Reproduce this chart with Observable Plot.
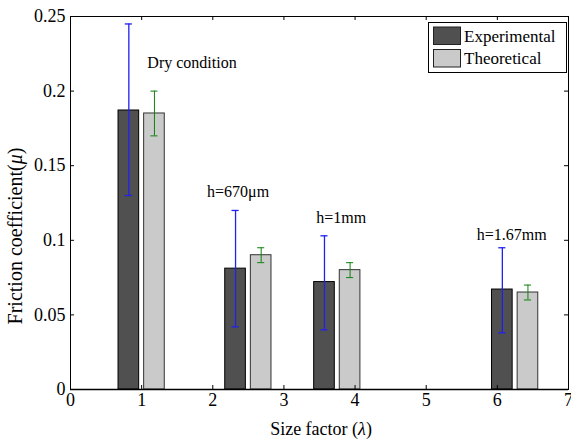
<!DOCTYPE html>
<html>
<head>
<meta charset="utf-8">
<script src="https://cdn.jsdelivr.net/npm/d3@7"></script>
<script src="https://cdn.jsdelivr.net/npm/@observablehq/plot@0.6"></script>
<style>
  body { margin: 0; background: #fff; }
  svg { font-family: "Liberation Serif", "Times New Roman", serif; }
</style>
</head>
<body>
<div id="chart"></div>
<script>
// ---- data ----
const lambda = [1, 2.5, 3.75, 6.25];
const experimental = [0.187, 0.081, 0.072, 0.067];
const expLow = [0.130, 0.042, 0.040, 0.038];
const expHigh = [0.245, 0.120, 0.103, 0.095];
const theoretical = [0.185, 0.090, 0.080, 0.065];
const theoLow = [0.170, 0.085, 0.075, 0.060];
const theoHigh = [0.200, 0.095, 0.085, 0.070];
const annotations = ["Dry condition", "h=670\u03bcm", "h=1mm", "h=1.67mm"];
const annotX = [1.08, 1.92, 3.455, 5.71];
const annotY = [0.219, 0.1326, 0.115, 0.1035];
const xTicks = [0, 1, 2, 3, 4, 5, 6, 7];
const yTicks = [0, 0.05, 0.1, 0.15, 0.2, 0.25];
const seriesNames = ["Experimental", "Theoretical"];

// ---- layout / style ----
const W = 571, H = 440;
const mt = 16, mb = 51, ml = 70, mr = 3;
const innerH = H - mt - mb, innerW = W - ml - mr;
const offset = 0.18, halfW = 0.145, cap = 0.05;
const darkFill = "#505050", lightFill = "#cacaca";

const rows = lambda.map((x, i) => ({
  x, exp: experimental[i], eLo: expLow[i], eHi: expHigh[i],
  theo: theoretical[i], tLo: theoLow[i], tHi: theoHigh[i]
}));
const notes = annotations.map((t, i) => ({t, x: annotX[i], y: annotY[i]}));

const plot = Plot.plot({
  width: W, height: H,
  marginTop: mt, marginBottom: mb, marginLeft: ml, marginRight: mr,
  style: {fontFamily: "Liberation Serif, serif", fontSize: "18px", background: "#fff", color: "#000"},
  x: {domain: [0, 7], ticks: xTicks, label: null},
  y: {domain: [0, 0.25], ticks: yTicks, label: null},
  marks: [
    // bars
    Plot.rectY(rows, {x1: d => d.x - offset - halfW, x2: d => d.x - offset + halfW, y: "exp", fill: darkFill, stroke: "#000", strokeWidth: 1}),
    Plot.rectY(rows, {x1: d => d.x + offset - halfW, x2: d => d.x + offset + halfW, y: "theo", fill: lightFill, stroke: "#333", strokeWidth: 1}),
    // error bars experimental
    Plot.ruleX(rows, {x: d => d.x - offset, y1: "eLo", y2: "eHi", stroke: "#2020f0", strokeWidth: 1.3}),
    Plot.ruleY(rows, {y: "eLo", x1: d => d.x - offset - cap, x2: d => d.x - offset + cap, stroke: "#2020f0", strokeWidth: 1.3}),
    Plot.ruleY(rows, {y: "eHi", x1: d => d.x - offset - cap, x2: d => d.x - offset + cap, stroke: "#2020f0", strokeWidth: 1.3}),
    // error bars theoretical
    Plot.ruleX(rows, {x: d => d.x + offset, y1: "tLo", y2: "tHi", stroke: "#108010", strokeWidth: 1}),
    Plot.ruleY(rows, {y: "tLo", x1: d => d.x + offset - cap, x2: d => d.x + offset + cap, stroke: "#108010", strokeWidth: 1}),
    Plot.ruleY(rows, {y: "tHi", x1: d => d.x + offset - cap, x2: d => d.x + offset + cap, stroke: "#108010", strokeWidth: 1}),
    // annotations
    Plot.text(notes, {x: "x", y: "y", text: "t", textAnchor: "start", fontSize: 16, fill: "#000"}),
    // inner ticks
    Plot.tickX(xTicks, {x: d => d, insetTop: innerH - 4, stroke: "#000"}),
    Plot.tickX(xTicks, {x: d => d, insetBottom: innerH - 4, stroke: "#000"}),
    Plot.tickY(yTicks, {y: d => d, insetRight: innerW - 4, stroke: "#000"}),
    Plot.tickY(yTicks, {y: d => d, insetLeft: innerW - 4, stroke: "#000"}),
    Plot.frame({stroke: "#000", strokeWidth: 1}),
    Plot.ruleY([0], {stroke: "#000", strokeWidth: 1.5}),
    // axes (labels only)
    Plot.axisX({ticks: xTicks, tickSize: 0, tickPadding: 4, fontSize: 18, tickFormat: d => String(d)}),
    Plot.axisY({ticks: yTicks, tickSize: 0, tickPadding: 5, fontSize: 18, tickFormat: d => String(+d.toFixed(2))})
  ]
});

document.getElementById("chart").appendChild(plot);

const svg = d3.select(plot);
// axis titles
const xt = svg.append("text").attr("x", 321).attr("y", 435).attr("text-anchor", "middle")
  .attr("font-size", 18).attr("fill", "#000");
xt.append("tspan").text("Size factor (");
xt.append("tspan").attr("font-style", "italic").text("\u03bb");
xt.append("tspan").text(")");

const yt = svg.append("text").attr("transform", "translate(22,236) rotate(-90)").attr("text-anchor", "middle")
  .attr("font-size", 20).attr("fill", "#000");
yt.append("tspan").text("Friction coefficient(");
yt.append("tspan").attr("font-style", "italic").text("\u03bc");
yt.append("tspan").text(")");

// legend
const lg = svg.append("g");
lg.append("rect").attr("x", 428.5).attr("y", 22.5).attr("width", 138).attr("height", 50)
  .attr("fill", "#fff").attr("stroke", "#000").attr("stroke-width", 1);
const fills = [darkFill, lightFill];
seriesNames.forEach((name, i) => {
  const y0 = 27 + i * 22.5;
  lg.append("rect").attr("x", 433.5).attr("y", y0).attr("width", 27).attr("height", 17.5)
    .attr("fill", fills[i]).attr("stroke", "#222");
  lg.append("text").attr("x", 464).attr("y", y0 + 14.5).attr("text-anchor", "start")
    .attr("font-size", 17).attr("fill", "#000").text(name);
});
</script>
</body>
</html>
